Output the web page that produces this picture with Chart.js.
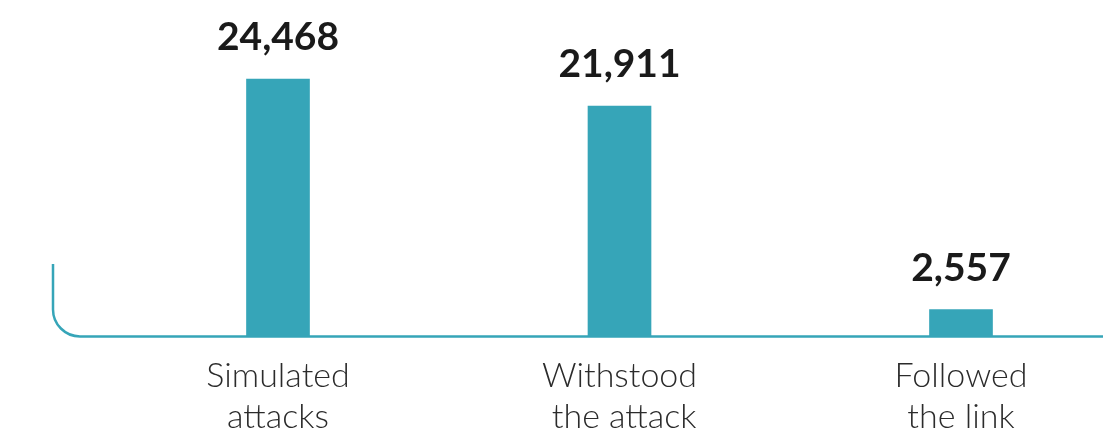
<!DOCTYPE html>
<html lang="en">
<head>
    <meta charset="UTF-8">
    <title>Simulated attacks</title>
    <script src="https://cdn.jsdelivr.net/npm/chart.js"></script>
    <style>
        html, body { margin: 0; padding: 0; background: #fff; }
        .chart-box { width: 1103px; height: 432px; position: relative; }
    </style>
</head>
<body>
    <div class="chart-box">
        <canvas id="attack-chart"></canvas>
    </div>

    <script>
        // chart data
        const categories = [['Simulated', 'attacks'], ['Withstood', ' the attack'], ['Followed', 'the link']];
        const attackCounts = [24468, 21911, 2557];

        const teal = '#36a5b8';

        // rounded L-shaped axis line on the left/bottom
        const axisLine = {
            id: 'axisLine',
            beforeDatasetsDraw(chart) {
                const { ctx, chartArea } = chart;
                const y = chartArea.bottom;
                const x = 53;
                const r = 27;
                ctx.save();
                ctx.strokeStyle = teal;
                ctx.lineWidth = 2.5;
                ctx.beginPath();
                ctx.moveTo(x, 264);
                ctx.lineTo(x, y - r);
                ctx.arcTo(x, y, x + r, y, r);
                ctx.lineTo(chart.width, y);
                ctx.stroke();
                ctx.restore();
            }
        };

        // bold value above each bar
        const valueLabels = {
            id: 'valueLabels',
            afterDatasetsDraw(chart) {
                const { ctx } = chart;
                const meta = chart.getDatasetMeta(0);
                ctx.save();
                ctx.font = 'bold 39px Lato';
                ctx.fillStyle = '#1a1a1a';
                ctx.textAlign = 'center';
                ctx.textBaseline = 'alphabetic';
                meta.data.forEach((bar, i) => {
                    ctx.fillText(attackCounts[i].toLocaleString('en-US'), bar.x, bar.y - 29);
                });
                ctx.restore();
            }
        };

        const ctx = document.getElementById('attack-chart').getContext('2d');
        const chart = new Chart(ctx, {
            type: 'bar',
            data: {
                labels: categories,
                datasets: [{
                    data: attackCounts,
                    backgroundColor: teal,
                    borderWidth: 0,
                    barThickness: 63,
                    clip: false
                }]
            },
            options: {
                responsive: true,
                maintainAspectRatio: false,
                animation: false,
                layout: { padding: { left: 278, right: 142, top: 0, bottom: -24 } },
                plugins: {
                    legend: { display: false },
                    tooltip: { enabled: false }
                },
                scales: {
                    x: {
                        offset: false,
                        grid: { display: false, drawTicks: false },
                        border: { display: false },
                        ticks: {
                            padding: 19,
                            color: '#2b2b2b',
                            maxRotation: 0,
                            autoSkip: false,
                            font: { family: 'Lato', weight: '300', size: 34, lineHeight: 1.2 }
                        }
                    },
                    y: {
                        display: false,
                        min: 0,
                        max: 32000
                    }
                }
            },
            plugins: [axisLine, valueLabels]
        });
    </script>
</body>
</html>
